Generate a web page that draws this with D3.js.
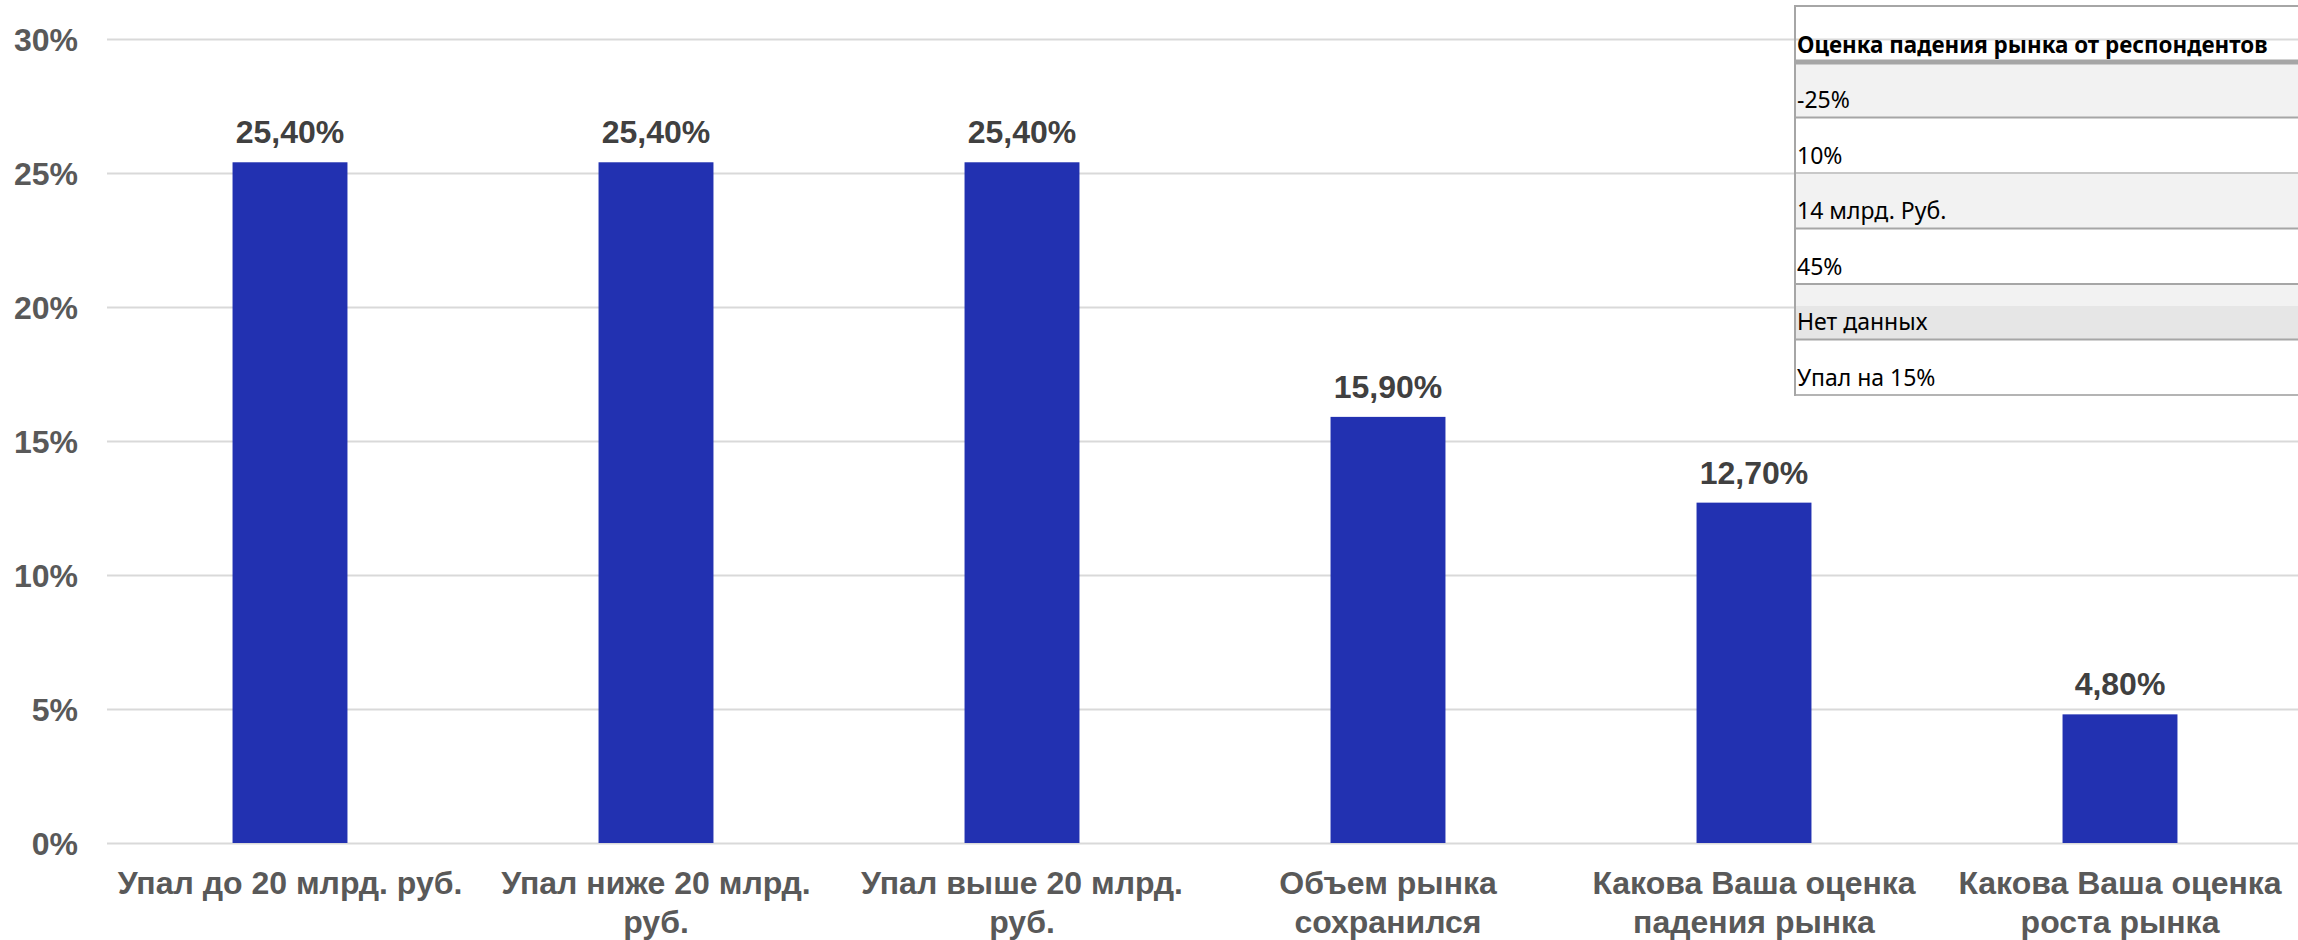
<!DOCTYPE html>
<html>
<head>
<meta charset="utf-8">
<script src="https://cdn.jsdelivr.net/npm/d3@7"></script>
<style>
  html, body { margin: 0; padding: 0; background: #ffffff; }
  svg { display: block; }
</style>
</head>
<body>
<svg id="chart" width="2298" height="940"></svg>
<script>
// Survey answers: share of respondents per option (percent)
const categories = [
  "Упал до 20 млрд. руб.",
  "Упал ниже 20 млрд.\nруб.",
  "Упал выше 20 млрд.\nруб.",
  "Объем рынка\nсохранился",
  "Какова Ваша оценка\nпадения рынка",
  "Какова Ваша оценка\nроста рынка"
];
const shares = [25.4, 25.4, 25.4, 15.9, 12.7, 4.8];
const yTicks = [0, 5, 10, 15, 20, 25, 30];

// Free-form answers shown in the side table
const tableHeader = "Оценка падения рынка от респондентов";
const tableRows = ["-25%", "10%", "14 млрд. Руб.", "45%", "Нет данных", "Упал на 15%"];

const W = 2298, H = 940;
const svg = d3.select("#chart");

const ruLocale = d3.formatLocale({ decimal: ",", thousands: "\u00a0", grouping: [3], currency: ["", " ₽"] });
const fmtValue = ruLocale.format(".2f");

const x = d3.scaleBand()
  .domain(categories)
  .range([107, 2303])
  .paddingInner(0.686)
  .paddingOuter(0.343);

const y = d3.scaleLinear()
  .domain([0, 30])
  .range([843, 39]);

// Horizontal gridlines + percent labels
const yAxis = svg.append("g")
  .attr("transform", "translate(107,0)")
  .call(d3.axisLeft(y)
    .tickValues(yTicks)
    .tickSize(-(W - 107))
    .tickPadding(29)
    .tickFormat(d => d + "%"));
yAxis.select(".domain").remove();
yAxis.selectAll(".tick line").attr("stroke", "#d9d9d9").attr("stroke-width", 2);
yAxis.selectAll(".tick text")
  .attr("fill", "#595959")
  .attr("font-family", "'Liberation Sans', Arial, sans-serif")
  .attr("font-weight", "bold")
  .attr("font-size", 32)
  .attr("dy", "0.36em");

// Bars
svg.append("g").selectAll("rect")
  .data(categories)
  .join("rect")
  .attr("x", d => x(d))
  .attr("width", x.bandwidth())
  .attr("y", (d, i) => y(shares[i]))
  .attr("height", (d, i) => y(0) - y(shares[i]))
  .attr("fill", "#2231b1");

// Value labels above bars
svg.append("g").selectAll("text")
  .data(categories)
  .join("text")
  .attr("x", d => x(d) + x.bandwidth() / 2)
  .attr("y", (d, i) => y(shares[i]) - 19)
  .attr("text-anchor", "middle")
  .attr("fill", "#404040")
  .attr("font-family", "'Liberation Sans', Arial, sans-serif")
  .attr("font-weight", "bold")
  .attr("font-size", 32)
  .text((d, i) => fmtValue(shares[i]) + "%");

// Category labels under the bars
const xAxis = svg.append("g")
  .attr("transform", "translate(0,843)")
  .call(d3.axisBottom(x).tickSize(0).tickFormat(""));
xAxis.select(".domain").remove();
xAxis.selectAll(".tick").each(function (d) {
  const t = d3.select(this).append("text")
    .attr("text-anchor", "middle")
    .attr("fill", "#595959")
    .attr("font-family", "'Liberation Sans', Arial, sans-serif")
    .attr("font-weight", "bold")
    .attr("font-size", 32)
    .attr("y", 51);
  d.split("\n").forEach((line, k) => {
    t.append("tspan").attr("x", 0).attr("dy", k === 0 ? 0 : 39).text(line);
  });
});

// Side table with respondents' estimates
const table = svg.append("g");
const tLeft = 1795;
const rowTop = 62, rowH = 55.5;
const rowFills = ["#f2f2f2", "#ffffff", "#f2f2f2", "#ffffff", "#f2f2f2", "#ffffff"];

table.selectAll("rect.row")
  .data(tableRows)
  .join("rect")
  .attr("class", "row")
  .attr("x", tLeft)
  .attr("y", (d, i) => rowTop + i * rowH)
  .attr("width", W - tLeft)
  .attr("height", rowH)
  .attr("fill", (d, i) => rowFills[i]);

// darker band in the lower part of the "Нет данных" row
table.append("rect")
  .attr("x", tLeft)
  .attr("y", 306)
  .attr("width", W - tLeft)
  .attr("height", rowTop + 5 * rowH - 306)
  .attr("fill", "#e6e6e6");

const borderColors = ["#a6a6a6", "#a6a6a6", "#c8c8c8", "#a6a6a6", "#a6a6a6", "#a6a6a6", "#b4b4b4"];
table.selectAll("line.border")
  .data(d3.range(tableRows.length + 1))
  .join("line")
  .attr("class", "border")
  .attr("x1", tLeft)
  .attr("x2", W)
  .attr("y1", i => rowTop + i * rowH)
  .attr("y2", i => rowTop + i * rowH)
  .attr("stroke", i => borderColors[i])
  .attr("stroke-width", i => i === 0 ? 5 : 2);

table.append("line")
  .attr("x1", tLeft).attr("x2", W)
  .attr("y1", 6).attr("y2", 6)
  .attr("stroke", "#a6a6a6").attr("stroke-width", 2);

table.append("line")
  .attr("x1", tLeft).attr("x2", tLeft)
  .attr("y1", 5).attr("y2", rowTop + tableRows.length * rowH + 1)
  .attr("stroke", "#a6a6a6").attr("stroke-width", 2);

table.append("text")
  .attr("x", tLeft + 2)
  .attr("y", 53)
  .attr("fill", "#000000")
  .attr("font-family", "'Noto Sans', 'Open Sans', sans-serif")
  .attr("font-weight", "bold")
  .attr("font-size", 22.4)
  .text(tableHeader);

table.selectAll("text.cell")
  .data(tableRows)
  .join("text")
  .attr("class", "cell")
  .attr("x", tLeft + 2)
  .attr("y", (d, i) => rowTop + i * rowH + 46)
  .attr("fill", "#000000")
  .attr("font-family", "'Noto Sans', 'Open Sans', sans-serif")
  .attr("font-size", 23)
  .text(d => d);
</script>
</body>
</html>
